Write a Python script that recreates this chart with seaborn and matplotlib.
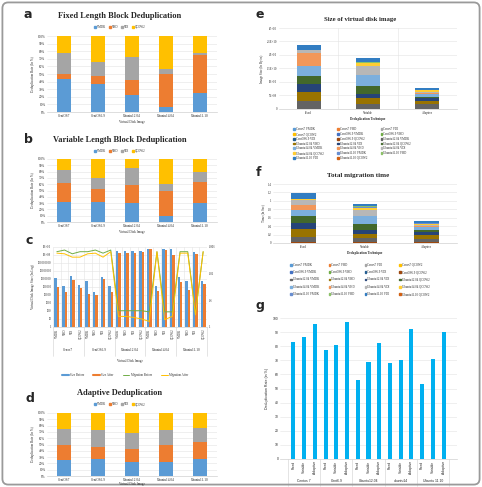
import numpy as np
import pandas as pd
import seaborn as sns
import matplotlib.pyplot as plt
import matplotlib.transforms as mtransforms
from matplotlib.patches import FancyBboxPatch, Patch
from matplotlib.lines import Line2D
from matplotlib.ticker import NullLocator

W, H = 482, 487

# ---- a, b, d : share of each image format (%) ----
oses = ['CentOS7', 'CentOS6.9', 'Ubuntu12.04', 'Ubuntu14.04', 'Ubuntu11.10']
formats = ['VMDK', 'VHD', 'VDI', 'QCOW2']
fmt_colors = ['#5B9BD5', '#ED7D31', '#A5A5A5', '#FFC000']

fixed_vmdk = [44, 37.5, 23, 6.5, 24.5]
fixed_vhd = [6, 9.5, 19, 43.5, 50]
fixed_vdi = [28, 18.5, 31, 6.5, 3.5]
fixed_qcow2 = [22, 34.5, 27, 43.5, 22]

var_vmdk = [32, 32, 29.5, 9, 29.5]
var_vhd = [29.5, 20.5, 28.5, 40.5, 33.5]
var_vdi = [21.5, 18, 27.5, 10.5, 16]
var_qcow2 = [17, 29.5, 14.5, 40, 21]

adp_vmdk = [25.5, 27, 22.5, 22.5, 27]
adp_vhd = [24.5, 19, 20.5, 26, 27]
adp_vdi = [24.5, 27, 25, 25, 22.5]
adp_qcow2 = [25.5, 27, 32, 26.5, 23.5]

# ---- c : image size (bytes) and migration time ----
c_groups = ['Cenos7', 'CentOS6.9', 'Ubuntu12.04', 'Ubuntu14.04', 'Ubuntu11.10']
size_before = [1.3e6, 1.4e5, 2.5e6, 2e5, 5e5, 2.5e4, 2e6, 1.4e5,
               3.5e9, 3.5e9, 3.5e9, 3.5e9, 5e9, 1.4e5, 5e9, 5e9,
               1.7e6, 5e5, 2.5e9, 5e5]
size_after = [1.1e5, 2.5e4, 8e5, 8e4, 1.2e4, 1e4, 1e6, 2.2e4,
              2e9, 1.8e9, 1.8e9, 2.5e9, 5e9, 3e4, 4e9, 1e9,
              3.8e5, 4.5e4, 1.5e9, 2.2e5]
mig_before = [0.0015, 0.0013, 0.0018, 0.0015, 0.0015, 0.0013, 0.0017, 0.0013,
              0.245, 0.245, 0.245, 0.245, 0.27, 0.0015, 0.27, 0.27,
              0.0015, 0.0015, 0.3, 0.0015]
mig_after = [0.0017, 0.0018, 0.0024, 0.0024, 0.0018, 0.0017, 0.0024, 0.0015,
             0.4, 0.4, 0.44, 0.5, 0.62, 0.0015, 0.53, 0.4,
             0.0017, 0.0017, 0.35, 0.0015]

# ---- e, f : stacked totals per technique ----
techniques = ['Fixed', 'Variable', 'Adaptive']
series_names = [f'{g} {f}' for g in c_groups for f in formats]
series_colors = ['#5B9BD5', '#ED7D31', '#A5A5A5', '#FFC000',
                 '#4472C4', '#70AD47', '#255E91', '#9E480E',
                 '#636363', '#997300', '#264478', '#43682B',
                 '#7CAFDD', '#F1975A', '#B7B7B7', '#FFCD33',
                 '#698ED0', '#8CC168', '#327DC2', '#D26012']

e_fixed = [1.3e6, 1.4e5, 2.5e6, 2e5, 5e5, 2.5e4, 2e6, 1.4e5,
           3.0e9, 3.2e9, 2.9e9, 3.0e9, 4.0e9, 4.8e9, 0.8e9, 0.05e9,
           0.02e9, 0.02e9, 2.0e9, 0.02e9]
e_variable = [1.1e5, 2.5e4, 8e5, 8e4, 1.2e4, 1e4, 1e6, 2.2e4,
              1.8e9, 2.1e9, 1.8e9, 2.7e9, 4.1e9, 0.2e9, 3.4e9, 0.9e9,
              0.05e9, 0.5e9, 1.2e9, 0.02e9]
e_adaptive = [1e5, 2e4, 6e5, 6e4, 1e4, 1e4, 8e5, 2e4,
              1.8e9, 1.1e9, 1.2e9, 0.4e9, 1.2e9, 0.1e9, 0.6e9, 0.6e9,
              0.05e9, 0.1e9, 0.6e9, 0.02e9]

f_fixed = [0.0015] * 8 + [0.14, 0.18, 0.14, 0.18, 0.14, 0.12, 0.12, 0.003,
                          0.003, 0.003, 0.15, 0.003]
f_variable = [0.0015] * 8 + [0.1, 0.1, 0.1, 0.14, 0.19, 0.01, 0.14, 0.05,
                             0.003, 0.04, 0.04, 0.003]
f_adaptive = [0.0015] * 8 + [0.08, 0.09, 0.08, 0.05, 0.06, 0.02, 0.04, 0.03,
                             0.003, 0.02, 0.04, 0.003]

# ---- g : deduplication rate (%) ----
g_groups = ['Centos 7', 'Cent6.9', 'Ubuntu12.04', 'ubuntu14', 'Ubuntu 11.10']
g_fixed = [83, 77, 56, 68, 53.5]
g_variable = [86.5, 81, 69, 70.5, 71]
g_adaptive = [95.5, 97.5, 82.5, 92.5, 90]

sns.set_theme(style='white')
plt.rcParams['font.family'] = ['Liberation Serif', 'DejaVu Serif']

fig = plt.figure(figsize=(W / 100, H / 100), dpi=100)


def box(l, t, r, b):
    return [l / W, 1 - b / H, (r - l) / W, (b - t) / H]


def ft(x, y, s, **kw):
    kw.setdefault('ha', 'center')
    kw.setdefault('va', 'center')
    return fig.text(x / W, 1 - y / H, s, **kw)


def letter(x, y, s):
    ft(x, y, s, ha='left', fontsize=9, fontweight='bold', family='DejaVu Sans')


def excel_axes(ax, size=2.4):
    for s in ['left', 'right', 'top']:
        ax.spines[s].set_visible(False)
    ax.spines['bottom'].set_color('#D0D0D0')
    ax.spines['bottom'].set_linewidth(0.5)
    ax.yaxis.grid(True, color='#E3E3E3', linewidth=0.4)
    ax.set_axisbelow(True)
    ax.tick_params(length=0, pad=1.2, labelsize=size)
    ax.set_xlabel('')
    ax.set_ylabel('')


def stacked(ax, cats, layers, colors, width):
    cum = np.cumsum(np.array(layers, dtype=float), axis=0)
    for i in range(len(layers) - 1, -1, -1):
        sns.barplot(x=cats, y=cum[i], color=colors[i], width=width,
                    saturation=1, errorbar=None, linewidth=0, ax=ax)


def pct_panel(rect, layers, title, ty, ly, xl_y):
    ax = fig.add_axes(box(*rect))
    stacked(ax, oses, layers, fmt_colors, 0.44)
    ax.set_ylim(0, 100)
    ax.set_yticks(range(0, 101, 10))
    ax.set_yticklabels([f'{v}%' for v in range(0, 101, 10)])
    excel_axes(ax)
    ax.set_ylabel('Deduplication Rate (In %)', fontsize=2.4, labelpad=2)
    ft(120, ty, title, fontsize=6, fontweight='bold')
    fig.legend([Patch(color=c) for c in fmt_colors], formats, loc='center',
               bbox_to_anchor=(120 / W, 1 - ly / H), ncol=4, fontsize=2.2,
               frameon=False, handlelength=0.6, handleheight=0.6,
               handletextpad=0.3, columnspacing=1.0)
    ft(132, xl_y, 'Virtual Disk Image', fontsize=2.4)
    return ax


# a
letter(24, 15, 'a')
pct_panel((47, 36, 217, 112), [fixed_vmdk, fixed_vhd, fixed_vdi, fixed_qcow2],
          'Fixed Length Block Deduplication', 16, 27, 122)
# b
letter(24, 139, 'b')
pct_panel((47, 159, 217, 222), [var_vmdk, var_vhd, var_vdi, var_qcow2],
          'Variable Length Block Deduplication', 140, 151, 232)
# d
letter(25, 399, 'd')
pct_panel((47, 413, 217, 476), [adp_vmdk, adp_vhd, adp_vdi, adp_qcow2],
          'Adaptive Deduplication', 393, 404, 484)

# c
letter(26, 241, 'c')
axc = fig.add_axes(box(53, 247, 207, 327))
c_df = pd.DataFrame({
    'cat': list(range(20)) * 2,
    'size': size_before + size_after,
    'kind': ['Size Before'] * 20 + ['Size After'] * 20,
})
sns.barplot(data=c_df, x='cat', y='size', hue='kind',
            palette=['#5B9BD5', '#ED7D31'], width=0.62, saturation=1,
            errorbar=None, legend=False, linewidth=0, ax=axc)
axc.set_yscale('log')
axc.set_ylim(1, 1e10)
axc.set_yticks([10 ** k for k in range(11)])
axc.set_yticklabels([str(10 ** k) for k in range(9)] + ['1E+09', '1E+10'])
axc.yaxis.set_minor_locator(NullLocator())
axc.set_xticks(range(20))
axc.set_xticklabels(formats * 5, rotation=90)
axc.set_xticks(np.arange(-0.5, 20, 1), minor=True)
excel_axes(axc, 2.2)
axc.xaxis.grid(True, which='minor', color='#E3E3E3', linewidth=0.4)
axc.set_ylabel('Virtual Disk Image Size (In Log)', fontsize=2.4, labelpad=2)

axm = axc.twinx()
sns.lineplot(x=np.arange(20), y=mig_before, color='#70AD47', lw=0.7, ax=axm)
sns.lineplot(x=np.arange(20), y=mig_after, color='#FFC000', lw=0.7, ax=axm)
axm.set_yscale('log')
axm.set_ylim(1, 0.001)
axm.set_yticks([0.001, 0.01, 0.1, 1])
axm.set_yticklabels(['0.001', '0.01', '0.1', '1'])
axm.yaxis.set_minor_locator(NullLocator())
for s in axm.spines.values():
    s.set_visible(False)
axm.tick_params(length=0, pad=1.2, labelsize=2.2)
axm.set_ylabel('')
axc.set_xlim(-0.5, 19.5)

trans = mtransforms.blended_transform_factory(axc.transData, axc.transAxes)
for k, g in enumerate(c_groups):
    axc.text(4 * k + 1.5, -0.29, g, transform=trans, ha='center', va='center',
             fontsize=2.4)
for k in range(6):
    axc.plot([4 * k - 0.5] * 2, [0, -0.36], transform=trans, color='#D0D0D0',
             lw=0.4, clip_on=False)
ft(130, 361, 'Virtual Disk Image', fontsize=2.4)
fig.legend([Line2D([], [], color='#5B9BD5', lw=1.5),
            Line2D([], [], color='#ED7D31', lw=1.5),
            Line2D([], [], color='#70AD47', lw=0.7),
            Line2D([], [], color='#FFC000', lw=0.7)],
           ['Size Before', 'Size After', 'Migration Before', 'Migration After'],
           loc='center', bbox_to_anchor=(125 / W, 1 - 375 / H), ncol=4,
           fontsize=2.2, frameon=False, handlelength=2.2,
           handletextpad=0.4, columnspacing=3.0)


def rowwise(items, ncol):
    return [items[i] for c in range(ncol) for i in range(c, len(items), ncol)]


handles = [Patch(color=c) for c in series_colors]

# e
letter(256, 15, 'e')
axe = fig.add_axes(box(279, 28, 457, 109))
stacked(axe, techniques, [[a, b, c] for a, b, c in zip(e_fixed, e_variable, e_adaptive)],
        series_colors, 0.4)
axe.set_ylim(0, 3e10)
axe.set_yticks(np.arange(0, 3.01e10, 5e9))
axe.set_yticklabels(['0', '5E+09', '1E+10', '1.5E+10', '2E+10', '2.5E+10', '3E+10'])
axe.set_xticks([0.5, 1.5], minor=True)
excel_axes(axe, 2.2)
axe.xaxis.grid(True, which='minor', color='#E3E3E3', linewidth=0.4)
axe.set_ylabel('Image Size (In Bytes)', fontsize=2.3, labelpad=2)
ft(360, 20, 'Size of virtual disk image', fontsize=4.8, fontweight='bold')
ft(368, 119, 'Deduplication Technique', fontsize=2.3, fontweight='bold')
fig.legend(rowwise(handles, 3), rowwise(series_names, 3), loc='upper center',
           bbox_to_anchor=(352 / W, 1 - 124.5 / H), ncol=3, fontsize=2.2,
           frameon=False, handlelength=0.5, handleheight=0.5,
           handletextpad=0.3, columnspacing=4.5, labelspacing=0.25)

# f
letter(256, 172, 'f')
axf = fig.add_axes(box(273, 184, 457, 243))
stacked(axf, techniques, [[a, b, c] for a, b, c in zip(f_fixed, f_variable, f_adaptive)],
        series_colors, 0.4)
axf.set_ylim(0, 1.4)
axf.set_yticks(np.arange(0, 1.41, 0.2))
axf.set_yticklabels(['0', '0.2', '0.4', '0.6', '0.8', '1', '1.2', '1.4'])
excel_axes(axf, 2.2)
axf.set_ylabel('Time (In Sec)', fontsize=2.3, labelpad=2)
ft(358, 175, 'Total migration time', fontsize=5, fontweight='bold')
ft(365, 253, 'Deduplication Technique', fontsize=2.3, fontweight='bold')
fig.legend(rowwise(handles, 4), rowwise(series_names, 4), loc='upper center',
           bbox_to_anchor=(360 / W, 1 - 260 / H), ncol=4, fontsize=2.2,
           frameon=False, handlelength=0.5, handleheight=0.5,
           handletextpad=0.3, columnspacing=3.2, labelspacing=1.1)

# g
letter(256, 305, 'g')
axg = fig.add_axes(box(280, 318, 457, 459))
g_df = pd.DataFrame({
    'cat': [f'{g}|{t}' for g in g_groups for t in techniques],
    'rate': [v for trio in zip(g_fixed, g_variable, g_adaptive) for v in trio],
})
sns.barplot(data=g_df, x='cat', y='rate', color='#00B0F0', width=0.38,
            saturation=1, errorbar=None, linewidth=0, ax=axg)
axg.set_ylim(0, 100)
axg.set_yticks(range(0, 101, 10))
excel_axes(axg, 2.4)
for lab in axg.get_yticklabels():
    lab.set_family('Liberation Sans')
axg.set_xticks(range(15))
axg.set_xticklabels(techniques * 5, rotation=90, family='Liberation Sans')
axg.set_ylabel('Deduplication Rate (in %)', fontsize=2.6, labelpad=3,
               family='Liberation Sans')
tg = mtransforms.blended_transform_factory(axg.transData, axg.transAxes)
for k, g in enumerate(g_groups):
    axg.text(3 * k + 1, -0.157, g, transform=tg, ha='center', va='center',
             fontsize=2.4, family='Liberation Sans')
for k in range(6):
    axg.plot([3 * k - 0.5] * 2, [0, -0.19], transform=tg, color='#D0D0D0',
             lw=0.4, clip_on=False)

fig.patches.append(FancyBboxPatch((0.005, 0.005), 0.99, 0.99,
                                  boxstyle='round,pad=0,rounding_size=0.012',
                                  transform=fig.transFigure, fill=False,
                                  ec='#9A9A9A', lw=1.3))

fig.savefig('out.png', dpi=100)
